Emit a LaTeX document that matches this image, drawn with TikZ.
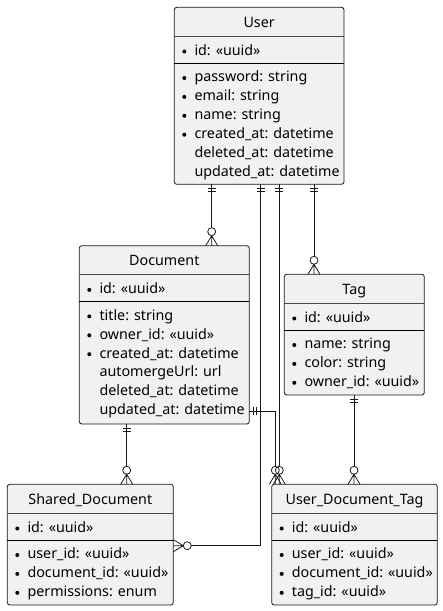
\documentclass[tikz,border=0pt]{standalone}
\usepackage{fontspec}
\setmainfont{Noto Sans}
\usetikzlibrary{calc}
\definecolor{boxfill}{HTML}{F1F1F1}
\definecolor{boxline}{HTML}{181818}
\tikzset{
  ebox/.style={draw=boxline, fill=boxfill, line width=0.8pt, rounded corners=2.5pt,
    anchor=north west, inner sep=0pt, outer sep=0pt},
  titletext/.style={anchor=base, inner sep=0pt, text=black},
  rowtext/.style={anchor=base west, inner sep=0pt, text=black},
  septhin/.style={draw=boxline!80, line width=0.6pt},
  septhick/.style={draw=black, line width=1.1pt},
  conn/.style={draw=boxline, line width=0.8pt},
  oneone/.pic={\draw[conn] (-4,4)--(4,4) (-4,7.5)--(4,7.5);},
  zmany/.pic={\draw[conn] (-6,0)--(0,10)--(6,0) (0,0)--(0,10) (0,14) circle[radius=4pt];}
}
\newcommand\erbox[6]{%
  \node[ebox, minimum width=#4pt, minimum height=#5pt] (#1) at (#2,#3) {};
  \node[titletext] (#1-t) at ($(#1.north)+(0,20)$) {#6};
  \draw[septhin] ($(#1.north west)+(0,29)$) -- ($(#1.north east)+(0,29)$);
  \draw[septhick] ($(#1.north west)+(0,56)$) -- ($(#1.north east)+(0,56)$);
}
\newcommand\brow[3]{%
  \fill[black] ($(#1.north west)+(10,#2-3.8)$) circle[radius=2pt];
  \node[rowtext] (#1-r#2) at ($(#1.north west)+(20,#2)$) {#3};
}
\newcommand\prow[3]{%
  \node[rowtext] (#1-r#2) at ($(#1.north west)+(20,#2)$) {#3};
}
\begin{document}
\begin{tikzpicture}[x=1pt, y=-1pt, font=\fontsize{14.3}{16}\selectfont]
\useasboundingbox (0,0) rectangle (443,611);

% User
\erbox{user}{174.3}{7.3}{169.7}{177}{User}
\brow{user}{48}{id: «uuid»}
\brow{user}{74.5}{password: string}
\brow{user}{93.4}{email: string}
\brow{user}{112.3}{name: string}
\brow{user}{131.2}{created\_at: datetime}
\prow{user}{150.1}{deleted\_at: datetime}
\prow{user}{169}{updated\_at: datetime}

% Document
\erbox{document}{79.3}{245.7}{170}{178.3}{Document}
\brow{document}{48}{id: «uuid»}
\brow{document}{74.5}{title: string}
\brow{document}{93.4}{owner\_id: «uuid»}
\brow{document}{112.3}{created\_at: datetime}
\prow{document}{131.2}{automergeUrl: url}
\prow{document}{150.1}{deleted\_at: datetime}
\prow{document}{169}{updated\_at: datetime}

% Tag
\erbox{tag}{284.3}{274.3}{140}{120.7}{Tag}
\brow{tag}{48}{id: «uuid»}
\brow{tag}{74.5}{name: string}
\brow{tag}{93.4}{color: string}
\brow{tag}{112.3}{owner\_id: «uuid»}

% Shared_Document
\erbox{shared}{7.3}{484.3}{166}{120.7}{Shared\_Document}
\brow{shared}{48}{id: «uuid»}
\brow{shared}{74.5}{user\_id: «uuid»}
\brow{shared}{93.4}{document\_id: «uuid»}
\brow{shared}{112.3}{permissions: enum}

% User_Document_Tag
\erbox{udt}{271.7}{484.3}{165.6}{120.7}{User\_Document\_Tag}
\brow{udt}{48}{id: «uuid»}
\brow{udt}{74.5}{user\_id: «uuid»}
\brow{udt}{93.4}{document\_id: «uuid»}
\brow{udt}{112.3}{tag\_id: «uuid»}

% connector guide coordinates
\coordinate (xa) at (211.7,0);
\coordinate (xb) at (260.5,0);
\coordinate (xc) at (279.3,0);
\coordinate (xd) at (314,0);
\coordinate (xe) at (275.3,0);
\coordinate (xf) at (354,0);
\coordinate (xg) at (126.7,0);
\coordinate (yb) at (0,545.7);
\coordinate (ye) at (0,411);

% User -> Document
\draw[conn, shorten >=18pt] (user.south -| xa) -- (document.north -| xa);
\pic at (user.south -| xa) {oneone};
\pic[rotate=180] at (document.north -| xa) {zmany};

% User -> Shared_Document
\draw[conn, shorten >=18pt] (user.south -| xb) |- (shared.east |- yb);
\pic at (user.south -| xb) {oneone};
\pic[rotate=90] at (shared.east |- yb) {zmany};

% User -> User_Document_Tag
\draw[conn, shorten >=18pt] (user.south -| xc) -- (udt.north -| xc);
\pic at (user.south -| xc) {oneone};
\pic[rotate=180] at (udt.north -| xc) {zmany};

% User -> Tag
\draw[conn, shorten >=18pt] (user.south -| xd) -- (tag.north -| xd);
\pic at (user.south -| xd) {oneone};
\pic[rotate=180] at (tag.north -| xd) {zmany};

% Document -> User_Document_Tag
\draw[conn, shorten >=18pt] (document.east |- ye) -| (udt.north -| xe);
\pic[rotate=90] at (document.east |- ye) {oneone};
\pic[rotate=180] at (udt.north -| xe) {zmany};

% Tag -> User_Document_Tag
\draw[conn, shorten >=18pt] (tag.south -| xf) -- (udt.north -| xf);
\pic at (tag.south -| xf) {oneone};
\pic[rotate=180] at (udt.north -| xf) {zmany};

% Document -> Shared_Document
\draw[conn, shorten >=18pt] (document.south -| xg) -- (shared.north -| xg);
\pic at (document.south -| xg) {oneone};
\pic[rotate=180] at (shared.north -| xg) {zmany};
\end{tikzpicture}
\end{document}
